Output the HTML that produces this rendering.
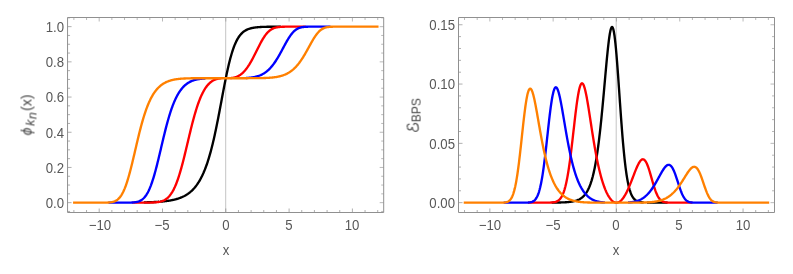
<!DOCTYPE html>
<html><head><meta charset="utf-8"><title>plot</title>
<style>
html,body{margin:0;padding:0;background:#fff;}
body{width:793px;height:274px;position:relative;overflow:hidden;font-family:"Liberation Sans",sans-serif;}
.t{position:absolute;will-change:transform;transform:scaleY(1.07);transform-origin:50% 12.6px;font-size:13.2px;line-height:16px;height:16px;color:#585858;white-space:nowrap;}
.lt{stroke:#8c8c8c;stroke-width:0.6}
.yl{position:absolute;width:0;height:0;}
.yl .rot{will-change:transform;position:absolute;left:0;top:0;white-space:nowrap;font-size:13.5px;line-height:16px;color:#484848;transform:translate(-50%,-50%) rotate(-90deg);transform-origin:50% 50%;display:inline-block;}
.g{position:relative;display:inline-block;}
.phi{font-size:14px;}
.kk{font-size:12.5px;top:3.2px;margin-left:1.8px;}
.nn{font-size:12.5px;top:5px;margin-left:0.5px;}
.px{font-size:14px;margin-left:1.2px;}
.bps{font-size:12px;top:4.1px;margin-left:0px;}
</style></head><body>
<svg width="793" height="274" viewBox="0 0 793 274" style="position:absolute;left:0;top:0"><g fill="none" stroke-linejoin="round" stroke-linecap="butt"><path d="M225.7,17.5 V212.5" stroke="#c4c4c4" stroke-width="1"/><g stroke-width="2.35"><path d="M143.87,202.38 L144.37,202.37 L144.88,202.36 L145.38,202.34 L145.89,202.33 L146.39,202.32 L146.90,202.30 L147.41,202.29 L147.91,202.28 L148.42,202.26 L148.92,202.24 L149.43,202.23 L149.93,202.21 L150.44,202.19 L150.95,202.17 L151.45,202.15 L151.96,202.13 L152.46,202.11 L152.97,202.09 L153.47,202.07 L153.98,202.04 L154.49,202.02 L154.99,201.99 L155.50,201.97 L156.00,201.94 L156.51,201.91 L157.02,201.88 L157.52,201.85 L158.03,201.82 L158.53,201.78 L159.04,201.75M160.05,201.67 L160.56,201.63 L161.06,201.59 L161.57,201.55 L162.07,201.50 L162.58,201.46 L163.08,201.41 L163.59,201.36 L164.10,201.30 L164.60,201.25 L165.11,201.19 L165.61,201.13 L166.12,201.07 L166.62,201.01 L167.13,200.94 L167.64,200.87 L168.14,200.80 L168.65,200.72 L169.15,200.64 L169.66,200.56 L170.17,200.48 L170.67,200.39 L171.18,200.30 L171.68,200.20 L172.19,200.10 L172.69,200.00 L173.20,199.89 L173.71,199.78 L174.21,199.66 L174.72,199.54 L175.22,199.41 L175.73,199.28 L176.23,199.14 L176.74,199.00 L177.25,198.85 L177.75,198.70 L178.26,198.53 L178.76,198.37 L179.27,198.19 L179.77,198.01 L180.28,197.82 L180.79,197.62 L181.29,197.42 L181.80,197.21 L182.30,196.99 L182.81,196.75 L183.32,196.51 L183.82,196.27 L184.33,196.01 L184.83,195.73 L185.34,195.45 L185.84,195.16 L186.35,194.86 L186.86,194.54 L187.36,194.21 L187.87,193.87 L188.37,193.51 L188.88,193.14 L189.38,192.75 L189.89,192.35 L190.40,191.93 L190.90,191.49 L191.41,191.04 L191.91,190.57 L192.42,190.08 L192.92,189.57 L193.43,189.04 L193.94,188.49 L194.44,187.92 L194.95,187.32 L195.45,186.70 L195.96,186.06 L196.47,185.39 L196.97,184.69 L197.48,183.97 L197.98,183.21 L198.49,182.43 L198.99,181.62 L199.50,180.78 L200.01,179.90 L200.51,178.99 L201.02,178.04 L201.52,177.06 L202.03,176.04 L202.53,174.98 L203.04,173.88 L203.55,172.75 L204.05,171.56 L204.56,170.34 L205.06,169.07 L205.57,167.75 L206.07,166.39 L206.58,164.98 L207.09,163.52 L207.59,162.01 L208.10,160.44 L208.60,158.83 L209.11,157.16 L209.62,155.43 L210.12,153.66 L210.63,151.82 L211.13,149.93 L211.64,147.99 L212.14,145.99 L212.65,143.93 L213.16,141.82 L213.66,139.65 L214.17,137.43 L214.67,135.16 L215.18,132.83 L215.68,130.46 L216.19,128.03 L216.70,125.57 L217.20,123.06 L217.71,120.51 L218.21,117.92 L218.72,115.31 L219.22,112.67 L219.73,110.00 L220.24,107.32 L220.74,104.62 L221.25,101.92 L221.75,99.21 L222.26,96.51 L222.77,93.82 L223.27,91.14 L223.78,88.48 L224.28,85.86 L224.79,83.26 L225.29,80.71 L225.80,78.20 L226.31,75.74 L226.81,73.33 L227.32,70.99 L227.82,68.70 L228.33,66.48 L228.83,64.34 L229.34,62.26 L229.85,60.26 L230.35,58.33 L230.86,56.48 L231.36,54.71 L231.87,53.01 L232.38,51.39 L232.88,49.85 L233.39,48.39 L233.89,46.99 L234.40,45.68 L234.90,44.43 L235.41,43.25 L235.92,42.14 L236.42,41.09 L236.93,40.11 L237.43,39.18 L237.94,38.31 L238.44,37.50 L238.95,36.73 L239.46,36.02 L239.96,35.35 L240.47,34.73 L240.97,34.15 L241.48,33.61 L241.98,33.10 L242.49,32.63 L243.00,32.19 L243.50,31.79 L244.01,31.41 L244.51,31.06 L245.02,30.73 L245.53,30.43 L246.03,30.14 L246.54,29.88 L247.04,29.64 L247.55,29.42 L248.05,29.21 L248.56,29.02 L249.07,28.84 L249.57,28.67 L250.08,28.52 L250.58,28.38 L251.09,28.25 L251.59,28.13 L252.10,28.01 L252.61,27.91 L253.11,27.82 L253.62,27.73 L254.12,27.64 L254.63,27.57 L255.13,27.50 L255.64,27.43 L256.15,27.37 L256.65,27.32 L257.16,27.27 L257.66,27.22 L258.17,27.18 L258.68,27.14 L259.18,27.10 L259.69,27.06 L260.19,27.03 L260.70,27.00 L261.20,26.98 L261.71,26.95 L262.22,26.93 L262.72,26.91 L263.23,26.89 L263.73,26.87 L264.24,26.85 L264.74,26.84 L265.25,26.82 L265.76,26.81 L266.26,26.80 L266.77,26.79 L267.27,26.78 L267.78,26.77 L268.28,26.76 L268.79,26.75 L269.30,26.74 L269.80,26.73 L270.31,26.73 L270.81,26.72 L271.32,26.72 L271.83,26.71 L272.33,26.71 L272.84,26.70 L273.34,26.70 L273.85,26.69 L274.35,26.69 L274.86,26.69 L275.37,26.68 L275.87,26.68 L276.38,26.68 L276.88,26.68 L277.39,26.68 L277.89,26.67 L278.40,26.67 L278.91,26.67 L279.41,26.67 L279.92,26.67 L280.42,26.67 L280.93,26.66" stroke="#000000"/><path d="M132.23,202.65 L132.74,202.65 L133.24,202.65 L133.75,202.65 L134.26,202.65 L134.76,202.65 L135.27,202.65 L135.77,202.65 L136.28,202.65 L136.78,202.65 L137.29,202.65 L137.80,202.65 L138.30,202.65 L138.81,202.65 L139.31,202.65 L139.82,202.65 L140.32,202.65 L140.83,202.65 L141.34,202.65 L141.84,202.65 L142.35,202.65 L142.85,202.64 L143.36,202.64 L143.87,202.64 L144.37,202.64 L144.88,202.64 L145.38,202.64 L145.89,202.63 L146.39,202.63 L146.90,202.63 L147.41,202.62 L147.91,202.62 L148.42,202.61 L148.92,202.61 L149.43,202.60 L149.93,202.59 L150.44,202.58 L150.95,202.57 L151.45,202.55 L151.96,202.54 L152.46,202.52 L152.97,202.50 L153.47,202.47 L153.98,202.45 L154.49,202.42 L154.99,202.38 L155.50,202.34 L156.00,202.30 L156.51,202.24 L157.02,202.19 L157.52,202.12 L158.03,202.05 L158.53,201.97 L159.04,201.88 L159.54,201.78 L160.05,201.67 L160.56,201.54 L161.06,201.41 L161.57,201.25 L162.07,201.09 L162.58,200.90 L163.08,200.70 L163.59,200.48 L164.10,200.23 L164.60,199.97 L165.11,199.68 L165.61,199.36 L166.12,199.02 L166.62,198.64 L167.13,198.24 L167.64,197.80 L168.14,197.33 L168.65,196.82 L169.15,196.28 L169.66,195.69 L170.17,195.06 L170.67,194.39 L171.18,193.68 L171.68,192.91 L172.19,192.10 L172.69,191.24 L173.20,190.33 L173.71,189.36 L174.21,188.34 L174.72,187.26 L175.22,186.13 L175.73,184.94 L176.23,183.70 L176.74,182.39 L177.25,181.03 L177.75,179.61 L178.26,178.14 L178.76,176.60 L179.27,175.01 L179.77,173.37 L180.28,171.67 L180.79,169.93 L181.29,168.13 L181.80,166.29 L182.30,164.40 L182.81,162.47 L183.32,160.50 L183.82,158.50 L184.33,156.46 L184.83,154.40 L185.34,152.31 L185.84,150.21 L186.35,148.09 L186.86,145.96 L187.36,143.82 L187.87,141.69 L188.37,139.55 L188.88,137.42 L189.38,135.30 L189.89,133.20 L190.40,131.11 L190.90,129.05 L191.41,127.02 L191.91,125.01 L192.42,123.04 L192.92,121.11 L193.43,119.21 L193.94,117.35 L194.44,115.54 L194.95,113.77 L195.45,112.05 L195.96,110.38 L196.47,108.75 L196.97,107.17 L197.48,105.65 L197.98,104.17 L198.49,102.75 L198.99,101.38 L199.50,100.05 L200.01,98.78 L200.51,97.56 L201.02,96.38 L201.52,95.26 L202.03,94.18 L202.53,93.15 L203.04,92.17 L203.55,91.23 L204.05,90.34 L204.56,89.49 L205.06,88.68 L205.57,87.91 L206.07,87.18 L206.58,86.49 L207.09,85.84 L207.59,85.23 L208.10,84.65 L208.60,84.10 L209.11,83.58 L209.62,83.10 L210.12,82.65 L210.63,82.23 L211.13,81.83 L211.64,81.46 L212.14,81.12 L212.65,80.81 L213.16,80.52 L213.66,80.25 L214.17,80.00 L214.67,79.77 L215.18,79.57 L215.68,79.38 L216.19,79.21 L216.70,79.06 L217.20,78.92 L217.71,78.80 L218.21,78.70 L218.72,78.60 L219.22,78.52 L219.73,78.45 L220.24,78.39 L220.74,78.35 L221.25,78.31M230.35,78.09 L230.86,78.05 L231.36,78.00 L231.87,77.95 L232.38,77.88 L232.88,77.80 L233.39,77.70 L233.89,77.60 L234.40,77.48 L234.90,77.35 L235.41,77.20 L235.92,77.03 L236.42,76.85 L236.93,76.64 L237.43,76.42 L237.94,76.18 L238.44,75.92 L238.95,75.64 L239.46,75.34 L239.96,75.02 L240.47,74.67 L240.97,74.30 L241.48,73.90 L241.98,73.48 L242.49,73.04 L243.00,72.57 L243.50,72.07 L244.01,71.55 L244.51,71.00 L245.02,70.42 L245.53,69.82 L246.03,69.19 L246.54,68.54 L247.04,67.85 L247.55,67.14 L248.05,66.41 L248.56,65.64 L249.07,64.86 L249.57,64.05 L250.08,63.21 L250.58,62.35 L251.09,61.47 L251.59,60.57 L252.10,59.65 L252.61,58.71 L253.11,57.75 L253.62,56.78 L254.12,55.79 L254.63,54.80 L255.13,53.79 L255.64,52.78 L256.15,51.76 L256.65,50.74 L257.16,49.72 L257.66,48.70 L258.17,47.69 L258.68,46.68 L259.18,45.68 L259.69,44.70 L260.19,43.73 L260.70,42.78 L261.20,41.84 L261.71,40.93 L262.22,40.05 L262.72,39.18 L263.23,38.35 L263.73,37.55 L264.24,36.77 L264.74,36.03 L265.25,35.32 L265.76,34.64 L266.26,34.00 L266.77,33.39 L267.27,32.82 L267.78,32.28 L268.28,31.77 L268.79,31.30 L269.30,30.86 L269.80,30.45 L270.31,30.07 L270.81,29.72 L271.32,29.40 L271.83,29.10 L272.33,28.83 L272.84,28.59 L273.34,28.37 L273.85,28.16 L274.35,27.98 L274.86,27.82 L275.37,27.67 L275.87,27.54 L276.38,27.43 L276.88,27.32 L277.39,27.23 L277.89,27.15 L278.40,27.08 L278.91,27.02 L279.41,26.97 L279.92,26.92 L280.42,26.88 L280.93,26.84 L281.43,26.81 L281.94,26.79 L282.45,26.77 L282.95,26.75 L283.46,26.73 L283.96,26.72 L284.47,26.71 L284.98,26.70 L285.48,26.69 L285.99,26.68 L286.49,26.68 L287.00,26.67 L287.50,26.67 L288.01,26.66 L288.52,26.66 L289.02,26.66 L289.53,26.66 L290.03,26.66 L290.54,26.65 L291.04,26.65 L291.55,26.65 L292.06,26.65 L292.56,26.65 L293.07,26.65 L293.57,26.65 L294.08,26.65 L294.58,26.65 L295.09,26.65 L295.60,26.65 L296.10,26.65 L296.61,26.65 L297.11,26.65 L297.62,26.65 L298.13,26.65 L298.63,26.65 L299.14,26.65 L299.64,26.65 L300.15,26.65 L300.65,26.65 L301.16,26.65 L301.67,26.65 L302.17,26.65 L302.68,26.65 L303.18,26.65 L303.69,26.65 L304.19,26.65 L304.70,26.65 L305.21,26.65 L305.71,26.65" stroke="#ff0000"/><path d="M108.46,202.65 L108.97,202.65 L109.47,202.65 L109.98,202.65 L110.48,202.65 L110.99,202.65 L111.50,202.65 L112.00,202.65 L112.51,202.65 L113.01,202.65 L113.52,202.65 L114.02,202.65 L114.53,202.65 L115.04,202.65 L115.54,202.65 L116.05,202.65 L116.55,202.65 L117.06,202.65 L117.56,202.65 L118.07,202.65 L118.58,202.65 L119.08,202.65 L119.59,202.65 L120.09,202.65 L120.60,202.65 L121.11,202.65 L121.61,202.65 L122.12,202.65 L122.62,202.65 L123.13,202.65 L123.63,202.65 L124.14,202.65 L124.65,202.64 L125.15,202.64 L125.66,202.64 L126.16,202.64 L126.67,202.64 L127.17,202.63 L127.68,202.63 L128.19,202.62 L128.69,202.61 L129.20,202.61 L129.70,202.59 L130.21,202.58 L130.72,202.57 L131.22,202.55 L131.73,202.52 L132.23,202.50 L132.74,202.47 L133.24,202.43 L133.75,202.39 L134.26,202.34 L134.76,202.28 L135.27,202.21 L135.77,202.13 L136.28,202.04 L136.78,201.93 L137.29,201.81 L137.80,201.67 L138.30,201.52 L138.81,201.34 L139.31,201.14 L139.82,200.92 L140.32,200.67 L140.83,200.40 L141.34,200.09 L141.84,199.75 L142.35,199.37 L142.85,198.96 L143.36,198.50 L143.87,198.00 L144.37,197.46 L144.88,196.87 L145.38,196.22 L145.89,195.53 L146.39,194.78 L146.90,193.97 L147.41,193.11 L147.91,192.19 L148.42,191.20 L148.92,190.15 L149.43,189.04 L149.93,187.86 L150.44,186.62 L150.95,185.31 L151.45,183.93 L151.96,182.49 L152.46,180.99 L152.97,179.42 L153.47,177.79 L153.98,176.11 L154.49,174.36 L154.99,172.56 L155.50,170.71 L156.00,168.80 L156.51,166.86 L157.02,164.87 L157.52,162.84 L158.03,160.79 L158.53,158.70 L159.04,156.59 L159.54,154.46 L160.05,152.32 L160.56,150.16 L161.06,148.00 L161.57,145.85 L162.07,143.69 L162.58,141.55 L163.08,139.42 L163.59,137.31 L164.10,135.23 L164.60,133.17 L165.11,131.13 L165.61,129.13 L166.12,127.17 L166.62,125.25 L167.13,123.36 L167.64,121.52 L168.14,119.72 L168.65,117.97 L169.15,116.27 L169.66,114.61 L170.17,113.01 L170.67,111.45 L171.18,109.94 L171.68,108.48 L172.19,107.07 L172.69,105.71 L173.20,104.40 L173.71,103.13 L174.21,101.92 L174.72,100.74 L175.22,99.62 L175.73,98.54 L176.23,97.50 L176.74,96.51 L177.25,95.55 L177.75,94.64 L178.26,93.77 L178.76,92.93 L179.27,92.13 L179.77,91.37 L180.28,90.64 L180.79,89.95 L181.29,89.28 L181.80,88.65 L182.30,88.05 L182.81,87.47 L183.32,86.93 L183.82,86.41 L184.33,85.91 L184.83,85.45 L185.34,85.00 L185.84,84.58 L186.35,84.18 L186.86,83.80 L187.36,83.44 L187.87,83.09 L188.37,82.77 L188.88,82.47 L189.38,82.18 L189.89,81.91 L190.40,81.65 L190.90,81.41 L191.41,81.18 L191.91,80.96 L192.42,80.76 L192.92,80.57 L193.43,80.39 L193.94,80.23 L194.44,80.07 L194.95,79.92 L195.45,79.78 L195.96,79.66 L196.47,79.54 L196.97,79.42 L197.48,79.32 L197.98,79.22 L198.49,79.13 L198.99,79.05 L199.50,78.97 L200.01,78.90 L200.51,78.83 L201.02,78.77 L201.52,78.72 L202.03,78.66 L202.53,78.62 L203.04,78.57 L203.55,78.53 L204.05,78.50 L204.56,78.46 L205.06,78.43 L205.57,78.41M246.03,77.99 L246.54,77.96 L247.04,77.93 L247.55,77.90 L248.05,77.87 L248.56,77.83 L249.07,77.78 L249.57,77.74 L250.08,77.68 L250.58,77.63 L251.09,77.57 L251.59,77.50 L252.10,77.43 L252.61,77.35 L253.11,77.27 L253.62,77.18 L254.12,77.09 L254.63,76.99 L255.13,76.88 L255.64,76.76 L256.15,76.63 L256.65,76.50 L257.16,76.36 L257.66,76.20 L258.17,76.04 L258.68,75.87 L259.18,75.69 L259.69,75.49 L260.19,75.29 L260.70,75.07 L261.20,74.84 L261.71,74.60 L262.22,74.34 L262.72,74.07 L263.23,73.79 L263.73,73.49 L264.24,73.17 L264.74,72.84 L265.25,72.50 L265.76,72.13 L266.26,71.75 L266.77,71.35 L267.27,70.93 L267.78,70.50 L268.28,70.04 L268.79,69.57 L269.30,69.07 L269.80,68.56 L270.31,68.03 L270.81,67.47 L271.32,66.89 L271.83,66.29 L272.33,65.68 L272.84,65.03 L273.34,64.37 L273.85,63.69 L274.35,62.98 L274.86,62.26 L275.37,61.51 L275.87,60.75 L276.38,59.96 L276.88,59.15 L277.39,58.33 L277.89,57.49 L278.40,56.63 L278.91,55.75 L279.41,54.86 L279.92,53.96 L280.42,53.05 L280.93,52.12 L281.43,51.19 L281.94,50.25 L282.45,49.31 L282.95,48.36 L283.46,47.41 L283.96,46.46 L284.47,45.52 L284.98,44.58 L285.48,43.66 L285.99,42.74 L286.49,41.84 L287.00,40.95 L287.50,40.08 L288.01,39.23 L288.52,38.40 L289.02,37.60 L289.53,36.82 L290.03,36.07 L290.54,35.35 L291.04,34.66 L291.55,34.00 L292.06,33.38 L292.56,32.78 L293.07,32.23 L293.57,31.70 L294.08,31.21 L294.58,30.75 L295.09,30.33 L295.60,29.93 L296.10,29.57 L296.61,29.24 L297.11,28.94 L297.62,28.66 L298.13,28.41 L298.63,28.19 L299.14,27.99 L299.64,27.81 L300.15,27.65 L300.65,27.51 L301.16,27.38 L301.67,27.27 L302.17,27.18 L302.68,27.09 L303.18,27.02 L303.69,26.96 L304.19,26.91 L304.70,26.86 L305.21,26.83 L305.71,26.79 L306.22,26.77 L306.72,26.75 L307.23,26.73 L307.73,26.71 L308.24,26.70 L308.75,26.69 L309.25,26.68 L309.76,26.67 L310.26,26.67 L310.77,26.66 L311.28,26.66 L311.78,26.66 L312.29,26.66 L312.79,26.65 L313.30,26.65 L313.80,26.65 L314.31,26.65 L314.82,26.65 L315.32,26.65 L315.83,26.65 L316.33,26.65 L316.84,26.65 L317.34,26.65 L317.85,26.65 L318.36,26.65 L318.86,26.65 L319.37,26.65 L319.87,26.65 L320.38,26.65 L320.88,26.65 L321.39,26.65 L321.90,26.65 L322.40,26.65 L322.91,26.65 L323.41,26.65 L323.92,26.65 L324.43,26.65 L324.93,26.65 L325.44,26.65 L325.94,26.65 L326.45,26.65 L326.95,26.65 L327.46,26.65 L327.97,26.65 L328.47,26.65 L328.98,26.65 L329.48,26.65 L329.99,26.65 L330.49,26.65" stroke="#0000ff"/><path d="M73.06,202.65 L73.56,202.65 L74.07,202.65 L74.57,202.65 L75.08,202.65 L75.59,202.65 L76.09,202.65 L76.60,202.65 L77.10,202.65 L77.61,202.65 L78.11,202.65 L78.62,202.65 L79.13,202.65 L79.63,202.65 L80.14,202.65 L80.64,202.65 L81.15,202.65 L81.66,202.65 L82.16,202.65 L82.67,202.65 L83.17,202.65 L83.68,202.65 L84.18,202.65 L84.69,202.65 L85.20,202.65 L85.70,202.65 L86.21,202.65 L86.71,202.65 L87.22,202.65 L87.72,202.65 L88.23,202.65 L88.74,202.65 L89.24,202.65 L89.75,202.65 L90.25,202.65 L90.76,202.65 L91.26,202.65 L91.77,202.65 L92.28,202.65 L92.78,202.65 L93.29,202.65 L93.79,202.65 L94.30,202.65 L94.81,202.65 L95.31,202.65 L95.82,202.65 L96.32,202.65 L96.83,202.65 L97.33,202.65 L97.84,202.65 L98.35,202.65 L98.85,202.65 L99.36,202.65 L99.86,202.65 L100.37,202.65 L100.87,202.65 L101.38,202.65 L101.89,202.64 L102.39,202.64 L102.90,202.64 L103.40,202.64 L103.91,202.63 L104.41,202.63 L104.92,202.62 L105.43,202.62 L105.93,202.61 L106.44,202.59 L106.94,202.58 L107.45,202.56 L107.96,202.54 L108.46,202.51 L108.97,202.48 L109.47,202.44 L109.98,202.39 L110.48,202.33 L110.99,202.27 L111.50,202.19 L112.00,202.09 L112.51,201.99 L113.01,201.86 L113.52,201.72 L114.02,201.55 L114.53,201.36 L115.04,201.15 L115.54,200.91 L116.05,200.63 L116.55,200.32 L117.06,199.98 L117.56,199.60 L118.07,199.17 L118.58,198.70 L119.08,198.18 L119.59,197.61 L120.09,196.98 L120.60,196.30 L121.11,195.57 L121.61,194.77 L122.12,193.91 L122.62,192.98 L123.13,191.99 L123.63,190.93 L124.14,189.80 L124.65,188.60 L125.15,187.33 L125.66,185.99 L126.16,184.58 L126.67,183.10 L127.17,181.56 L127.68,179.95 L128.19,178.27 L128.69,176.54 L129.20,174.74 L129.70,172.89 L130.21,170.99 L130.72,169.04 L131.22,167.04 L131.73,165.01 L132.23,162.94 L132.74,160.84 L133.24,158.71 L133.75,156.57 L134.26,154.41 L134.76,152.24 L135.27,150.06 L135.77,147.89 L136.28,145.72 L136.78,143.56 L137.29,141.42 L137.80,139.30 L138.30,137.20 L138.81,135.12 L139.31,133.08 L139.82,131.07 L140.32,129.10 L140.83,127.17 L141.34,125.28 L141.84,123.43 L142.35,121.63 L142.85,119.87 L143.36,118.16 L143.87,116.50 L144.37,114.89 L144.88,113.33 L145.38,111.82 L145.89,110.36 L146.39,108.95 L146.90,107.58 L147.41,106.27 L147.91,105.00 L148.42,103.78 L148.92,102.60 L149.43,101.47 L149.93,100.39 L150.44,99.34 L150.95,98.34 L151.45,97.38 L151.96,96.46 L152.46,95.57 L152.97,94.72 L153.47,93.91 L153.98,93.14 L154.49,92.39 L154.99,91.68 L155.50,91.00 L156.00,90.35 L156.51,89.73 L157.02,89.14 L157.52,88.57 L158.03,88.03 L158.53,87.52 L159.04,87.03 L159.54,86.56 L160.05,86.11 L160.56,85.69 L161.06,85.28 L161.57,84.89 L162.07,84.53 L162.58,84.18 L163.08,83.84 L163.59,83.53 L164.10,83.23 L164.60,82.94 L165.11,82.67 L165.61,82.41 L166.12,82.17 L166.62,81.93 L167.13,81.71 L167.64,81.50 L168.14,81.31 L168.65,81.12 L169.15,80.94 L169.66,80.77 L170.17,80.61 L170.67,80.46 L171.18,80.32 L171.68,80.19 L172.19,80.06 L172.69,79.94 L173.20,79.82 L173.71,79.72 L174.21,79.62 L174.72,79.52 L175.22,79.43 L175.73,79.35 L176.23,79.27 L176.74,79.19 L177.25,79.12 L177.75,79.06 L178.26,79.00 L178.76,78.94 L179.27,78.89 L179.77,78.83 L180.28,78.79 L180.79,78.74 L181.29,78.70 L181.80,78.66 L182.30,78.63 L182.81,78.59 L183.32,78.56 L183.82,78.53 L184.33,78.51 L184.83,78.48 L185.34,78.46 L185.84,78.44 L186.35,78.41 L186.86,78.40 L187.36,78.38 L187.87,78.36 L188.37,78.35 L188.88,78.33 L189.38,78.32 L189.89,78.31 L190.40,78.30 L190.90,78.29 L191.41,78.28 L191.91,78.27 L192.42,78.27 L192.92,78.26 L193.43,78.25 L193.94,78.25 L194.44,78.24 L194.95,78.24 L195.45,78.23 L195.96,78.23 L196.47,78.23 L196.97,78.22 L197.48,78.22 L197.98,78.22 L198.49,78.22 L198.99,78.21 L199.50,78.21 L200.01,78.21 L200.51,78.21 L201.02,78.21 L201.52,78.21 L202.03,78.21 L202.53,78.20 L203.04,78.20 L203.55,78.20 L204.05,78.20 L204.56,78.20 L205.06,78.20 L205.57,78.20 L206.07,78.20 L206.58,78.20 L207.09,78.20 L207.59,78.20 L208.10,78.20 L208.60,78.20 L209.11,78.20 L209.62,78.20 L210.12,78.20 L210.63,78.20 L211.13,78.20 L211.64,78.20 L212.14,78.20 L212.65,78.20 L213.16,78.20 L213.66,78.20 L214.17,78.20 L214.67,78.20 L215.18,78.20 L215.68,78.20 L216.19,78.20 L216.70,78.20 L217.20,78.20 L217.71,78.20 L218.21,78.20 L218.72,78.20 L219.22,78.20 L219.73,78.20 L220.24,78.20 L220.74,78.20 L221.25,78.20 L221.75,78.20 L222.26,78.20 L222.77,78.20 L223.27,78.20 L223.78,78.20 L224.28,78.20 L224.79,78.20 L225.29,78.20 L225.80,78.20 L226.31,78.20 L226.81,78.20 L227.32,78.20 L227.82,78.20 L228.33,78.20 L228.83,78.20 L229.34,78.20 L229.85,78.20 L230.35,78.20 L230.86,78.20 L231.36,78.20 L231.87,78.20 L232.38,78.20 L232.88,78.20 L233.39,78.20 L233.89,78.20 L234.40,78.20 L234.90,78.20 L235.41,78.20 L235.92,78.20 L236.42,78.20 L236.93,78.20 L237.43,78.20 L237.94,78.20 L238.44,78.20 L238.95,78.20 L239.46,78.20 L239.96,78.20 L240.47,78.20 L240.97,78.20 L241.48,78.20 L241.98,78.20 L242.49,78.20 L243.00,78.20 L243.50,78.20 L244.01,78.20 L244.51,78.20 L245.02,78.20 L245.53,78.20 L246.03,78.20 L246.54,78.20 L247.04,78.20 L247.55,78.20 L248.05,78.20 L248.56,78.19 L249.07,78.19 L249.57,78.19 L250.08,78.19 L250.58,78.19 L251.09,78.19 L251.59,78.19 L252.10,78.19 L252.61,78.18 L253.11,78.18 L253.62,78.18 L254.12,78.18 L254.63,78.18 L255.13,78.17 L255.64,78.17 L256.15,78.16 L256.65,78.16 L257.16,78.16 L257.66,78.15 L258.17,78.15 L258.68,78.14 L259.18,78.13 L259.69,78.12 L260.19,78.12 L260.70,78.11 L261.20,78.10 L261.71,78.09 L262.22,78.08 L262.72,78.06 L263.23,78.05 L263.73,78.04 L264.24,78.02 L264.74,78.00 L265.25,77.98 L265.76,77.96 L266.26,77.94 L266.77,77.92 L267.27,77.89 L267.78,77.87 L268.28,77.84 L268.79,77.81 L269.30,77.77 L269.80,77.74 L270.31,77.70 L270.81,77.66 L271.32,77.61 L271.83,77.57 L272.33,77.52 L272.84,77.46 L273.34,77.41 L273.85,77.35 L274.35,77.28 L274.86,77.21 L275.37,77.14 L275.87,77.06 L276.38,76.98 L276.88,76.89 L277.39,76.80 L277.89,76.70 L278.40,76.59 L278.91,76.48 L279.41,76.37 L279.92,76.24 L280.42,76.11 L280.93,75.98 L281.43,75.83 L281.94,75.68 L282.45,75.52 L282.95,75.35 L283.46,75.17 L283.96,74.98 L284.47,74.78 L284.98,74.57 L285.48,74.35 L285.99,74.12 L286.49,73.88 L287.00,73.63 L287.50,73.37 L288.01,73.09 L288.52,72.80 L289.02,72.50 L289.53,72.18 L290.03,71.85 L290.54,71.50 L291.04,71.14 L291.55,70.76 L292.06,70.37 L292.56,69.96 L293.07,69.53 L293.57,69.09 L294.08,68.62 L294.58,68.14 L295.09,67.65 L295.60,67.13 L296.10,66.59 L296.61,66.04 L297.11,65.47 L297.62,64.87 L298.13,64.26 L298.63,63.62 L299.14,62.97 L299.64,62.30 L300.15,61.60 L300.65,60.89 L301.16,60.16 L301.67,59.41 L302.17,58.64 L302.68,57.85 L303.18,57.05 L303.69,56.22 L304.19,55.39 L304.70,54.53 L305.21,53.67 L305.71,52.79 L306.22,51.90 L306.72,51.00 L307.23,50.09 L307.73,49.17 L308.24,48.25 L308.75,47.33 L309.25,46.41 L309.76,45.49 L310.26,44.57 L310.77,43.66 L311.28,42.76 L311.78,41.86 L312.29,40.98 L312.79,40.12 L313.30,39.27 L313.80,38.45 L314.31,37.64 L314.82,36.86 L315.32,36.11 L315.83,35.39 L316.33,34.69 L316.84,34.02 L317.34,33.39 L317.85,32.79 L318.36,32.22 L318.86,31.69 L319.37,31.19 L319.87,30.72 L320.38,30.29 L320.88,29.89 L321.39,29.52 L321.90,29.18 L322.40,28.88 L322.91,28.60 L323.41,28.35 L323.92,28.12 L324.43,27.92 L324.93,27.74 L325.44,27.58 L325.94,27.44 L326.45,27.32 L326.95,27.21 L327.46,27.12 L327.97,27.04 L328.47,26.97 L328.98,26.92 L329.48,26.87 L329.99,26.83 L330.49,26.79 L331.00,26.76 L331.51,26.74 L332.01,26.72 L332.52,26.71 L333.02,26.69 L333.53,26.68 L334.04,26.68 L334.54,26.67 L335.05,26.67 L335.55,26.66 L336.06,26.66 L336.56,26.66 L337.07,26.65 L337.58,26.65 L338.08,26.65 L338.59,26.65 L339.09,26.65 L339.60,26.65 L340.10,26.65 L340.61,26.65 L341.12,26.65 L341.62,26.65 L342.13,26.65 L342.63,26.65 L343.14,26.65 L343.64,26.65 L344.15,26.65 L344.66,26.65 L345.16,26.65 L345.67,26.65 L346.17,26.65 L346.68,26.65 L347.19,26.65 L347.69,26.65 L348.20,26.65 L348.70,26.65 L349.21,26.65 L349.71,26.65 L350.22,26.65 L350.73,26.65 L351.23,26.65 L351.74,26.65 L352.24,26.65 L352.75,26.65 L353.25,26.65 L353.76,26.65 L354.27,26.65 L354.77,26.65 L355.28,26.65 L355.78,26.65 L356.29,26.65 L356.79,26.65 L357.30,26.65 L357.81,26.65 L358.31,26.65 L358.82,26.65 L359.32,26.65 L359.83,26.65 L360.34,26.65 L360.84,26.65 L361.35,26.65 L361.85,26.65 L362.36,26.65 L362.86,26.65 L363.37,26.65 L363.88,26.65 L364.38,26.65 L364.89,26.65 L365.39,26.65 L365.90,26.65 L366.40,26.65 L366.91,26.65 L367.42,26.65 L367.92,26.65 L368.43,26.65 L368.93,26.65 L369.44,26.65 L369.94,26.65 L370.45,26.65 L370.96,26.65 L371.46,26.65 L371.97,26.65 L372.47,26.65 L372.98,26.65 L373.49,26.65 L373.99,26.65 L374.50,26.65 L375.00,26.65 L375.51,26.65 L376.01,26.65 L376.52,26.65 L377.03,26.65 L377.53,26.65 L378.04,26.65 L378.54,26.65" stroke="#ff8000"/></g><g stroke="#787878" stroke-width="0.6" class="tk"><path d="M73.88,212.5 v-2.5" /><path d="M73.88,17.5 v2.5" class="lt"/><path d="M86.54,212.5 v-2.5" /><path d="M86.54,17.5 v2.5" class="lt"/><path d="M99.20,212.5 v-4" /><path d="M99.20,17.5 v4" class="lt"/><path d="M111.86,212.5 v-2.5" /><path d="M111.86,17.5 v2.5" class="lt"/><path d="M124.52,212.5 v-2.5" /><path d="M124.52,17.5 v2.5" class="lt"/><path d="M137.18,212.5 v-2.5" /><path d="M137.18,17.5 v2.5" class="lt"/><path d="M149.84,212.5 v-2.5" /><path d="M149.84,17.5 v2.5" class="lt"/><path d="M162.50,212.5 v-4" /><path d="M162.50,17.5 v4" class="lt"/><path d="M175.16,212.5 v-2.5" /><path d="M175.16,17.5 v2.5" class="lt"/><path d="M187.82,212.5 v-2.5" /><path d="M187.82,17.5 v2.5" class="lt"/><path d="M200.48,212.5 v-2.5" /><path d="M200.48,17.5 v2.5" class="lt"/><path d="M213.14,212.5 v-2.5" /><path d="M213.14,17.5 v2.5" class="lt"/><path d="M225.80,212.5 v-4" /><path d="M225.80,17.5 v4" class="lt"/><path d="M238.46,212.5 v-2.5" /><path d="M238.46,17.5 v2.5" class="lt"/><path d="M251.12,212.5 v-2.5" /><path d="M251.12,17.5 v2.5" class="lt"/><path d="M263.78,212.5 v-2.5" /><path d="M263.78,17.5 v2.5" class="lt"/><path d="M276.44,212.5 v-2.5" /><path d="M276.44,17.5 v2.5" class="lt"/><path d="M289.10,212.5 v-4" /><path d="M289.10,17.5 v4" class="lt"/><path d="M301.76,212.5 v-2.5" /><path d="M301.76,17.5 v2.5" class="lt"/><path d="M314.42,212.5 v-2.5" /><path d="M314.42,17.5 v2.5" class="lt"/><path d="M327.08,212.5 v-2.5" /><path d="M327.08,17.5 v2.5" class="lt"/><path d="M339.74,212.5 v-2.5" /><path d="M339.74,17.5 v2.5" class="lt"/><path d="M352.40,212.5 v-4" /><path d="M352.40,17.5 v4" class="lt"/><path d="M365.06,212.5 v-2.5" /><path d="M365.06,17.5 v2.5" class="lt"/><path d="M377.72,212.5 v-2.5" /><path d="M377.72,17.5 v2.5" class="lt"/><path d="M67.55,211.45 h2.5" /><path d="M383.7,211.45 h-2.5" class="lt"/><path d="M67.55,202.65 h4" /><path d="M383.7,202.65 h-4" class="lt"/><path d="M67.55,193.85 h2.5" /><path d="M383.7,193.85 h-2.5" class="lt"/><path d="M67.55,185.05 h2.5" /><path d="M383.7,185.05 h-2.5" class="lt"/><path d="M67.55,176.25 h2.5" /><path d="M383.7,176.25 h-2.5" class="lt"/><path d="M67.55,167.45 h4" /><path d="M383.7,167.45 h-4" class="lt"/><path d="M67.55,158.65 h2.5" /><path d="M383.7,158.65 h-2.5" class="lt"/><path d="M67.55,149.85 h2.5" /><path d="M383.7,149.85 h-2.5" class="lt"/><path d="M67.55,141.05 h2.5" /><path d="M383.7,141.05 h-2.5" class="lt"/><path d="M67.55,132.25 h4" /><path d="M383.7,132.25 h-4" class="lt"/><path d="M67.55,123.45 h2.5" /><path d="M383.7,123.45 h-2.5" class="lt"/><path d="M67.55,114.65 h2.5" /><path d="M383.7,114.65 h-2.5" class="lt"/><path d="M67.55,105.85 h2.5" /><path d="M383.7,105.85 h-2.5" class="lt"/><path d="M67.55,97.05 h4" /><path d="M383.7,97.05 h-4" class="lt"/><path d="M67.55,88.25 h2.5" /><path d="M383.7,88.25 h-2.5" class="lt"/><path d="M67.55,79.45 h2.5" /><path d="M383.7,79.45 h-2.5" class="lt"/><path d="M67.55,70.65 h2.5" /><path d="M383.7,70.65 h-2.5" class="lt"/><path d="M67.55,61.85 h4" /><path d="M383.7,61.85 h-4" class="lt"/><path d="M67.55,53.05 h2.5" /><path d="M383.7,53.05 h-2.5" class="lt"/><path d="M67.55,44.25 h2.5" /><path d="M383.7,44.25 h-2.5" class="lt"/><path d="M67.55,35.45 h2.5" /><path d="M383.7,35.45 h-2.5" class="lt"/><path d="M67.55,26.65 h4" /><path d="M383.7,26.65 h-4" class="lt"/><path d="M67.55,17.85 h2.5" /><path d="M383.7,17.85 h-2.5" class="lt"/></g><rect x="67.55" y="17.5" width="316.15" height="195.0" stroke="#909090" stroke-width="1"/><path d="M616.2,17.5 V212.5" stroke="#c4c4c4" stroke-width="1"/><g stroke-width="2.35"><path d="M551.71,202.61 L552.22,202.60 L552.72,202.60 L553.23,202.60 L553.73,202.59 L554.24,202.59 L554.75,202.58 L555.25,202.57 L555.76,202.57 L556.26,202.56 L556.77,202.55 L557.27,202.55 L557.78,202.54 L558.29,202.53 L558.79,202.52 L559.30,202.51 L559.80,202.50 L560.31,202.48 L560.82,202.47 L561.32,202.45 L561.83,202.44 L562.33,202.42 L562.84,202.40 L563.34,202.38 L563.85,202.36 L564.36,202.33 L564.86,202.31 L565.37,202.28 L565.87,202.25 L566.38,202.22 L566.88,202.18 L567.39,202.14 L567.90,202.10 L568.40,202.05 L568.91,202.00 L569.41,201.95 L569.92,201.89 L570.42,201.83 L570.93,201.76 L571.44,201.68 L571.94,201.60 L572.45,201.52 L572.95,201.42 L573.46,201.32 L573.97,201.21 L574.47,201.09 L574.98,200.96 L575.48,200.82 L575.99,200.67 L576.49,200.51 L577.00,200.33 L577.51,200.14 L578.01,199.93 L578.52,199.71 L579.02,199.47 L579.53,199.21 L580.03,198.92 L580.54,198.61 L581.05,198.28 L581.55,197.92 L582.06,197.54 L582.56,197.12 L583.07,196.66 L583.57,196.17 L584.08,195.64 L584.59,195.07 L585.09,194.46 L585.60,193.79 L586.10,193.07 L586.61,192.30 L587.12,191.46 L587.62,190.56 L588.13,189.59 L588.63,188.54 L589.14,187.41 L589.64,186.20 L590.15,184.89 L590.66,183.49 L591.16,181.98 L591.67,180.36 L592.17,178.63 L592.68,176.77 L593.18,174.77 L593.69,172.64 L594.20,170.36 L594.70,167.92 L595.21,165.33 L595.71,162.56 L596.22,159.62 L596.72,156.49 L597.23,153.18 L597.74,149.67 L598.24,145.97 L598.75,142.06 L599.25,137.95 L599.76,133.65 L600.27,129.14 L600.77,124.44 L601.28,119.55 L601.78,114.48 L602.29,109.26 L602.79,103.88 L603.30,98.39 L603.81,92.80 L604.31,87.14 L604.82,81.44 L605.32,75.76 L605.83,70.13 L606.33,64.60 L606.84,59.22 L607.35,54.06 L607.85,49.16 L608.36,44.60 L608.86,40.43 L609.37,36.72 L609.87,33.52 L610.38,30.91 L610.89,28.91 L611.39,27.59 L611.90,26.99 L612.40,27.12 L612.91,28.01 L613.42,29.66 L613.92,32.07 L614.43,35.22 L614.93,39.08 L615.44,43.60 L615.94,48.73 L616.45,54.40 L616.96,60.55 L617.46,67.09 L617.97,73.94 L618.47,81.02 L618.98,88.25 L619.48,95.54 L619.99,102.82 L620.50,110.02 L621.00,117.07 L621.51,123.91 L622.01,130.51 L622.52,136.81 L623.03,142.79 L623.53,148.43 L624.04,153.72 L624.54,158.64 L625.05,163.19 L625.55,167.38 L626.06,171.22 L626.57,174.72 L627.07,177.90 L627.58,180.77 L628.08,183.36 L628.59,185.67 L629.09,187.75 L629.60,189.59 L630.11,191.23 L630.61,192.68 L631.12,193.96 L631.62,195.09 L632.13,196.08 L632.63,196.95 L633.14,197.71 L633.65,198.37 L634.15,198.95 L634.66,199.46 L635.16,199.89 L635.67,200.27 L636.18,200.60 L636.68,200.89 L637.19,201.14 L637.69,201.35 L638.20,201.53 L638.70,201.69 L639.21,201.83 L639.72,201.94 L640.22,202.04 L640.73,202.13 L641.23,202.21 L641.74,202.27 L642.24,202.32 L642.75,202.37 L643.26,202.41 L643.76,202.45M646.80,202.57 L647.30,202.58 L647.81,202.59 L648.31,202.60 L648.82,202.61 L649.33,202.61 L649.83,202.62 L650.34,202.62 L650.84,202.63 L651.35,202.63 L651.85,202.63 L652.36,202.64 L652.87,202.64 L653.37,202.64 L653.88,202.64 L654.38,202.64 L654.89,202.64 L655.39,202.64 L655.90,202.65 L656.41,202.65 L656.91,202.65 L657.42,202.65 L657.92,202.65 L658.43,202.65 L658.93,202.65 L659.44,202.65 L659.95,202.65 L660.45,202.65 L660.96,202.65 L661.46,202.65 L661.97,202.65 L662.48,202.65 L662.98,202.65 L663.49,202.65 L663.99,202.65 L664.50,202.65 L665.00,202.65 L665.51,202.65 L666.02,202.65 L666.52,202.65 L667.03,202.65 L667.53,202.65" stroke="#000000"/><path d="M527.94,202.65 L528.45,202.65 L528.95,202.65 L529.46,202.65 L529.96,202.65 L530.47,202.65 L530.97,202.65 L531.48,202.65 L531.99,202.65 L532.49,202.65 L533.00,202.65 L533.50,202.65 L534.01,202.65 L534.52,202.65 L535.02,202.65 L535.53,202.65 L536.03,202.65 L536.54,202.65 L537.04,202.65 L537.55,202.65 L538.06,202.65 L538.56,202.65 L539.07,202.65 L539.57,202.65 L540.08,202.65 L540.58,202.65 L541.09,202.65 L541.60,202.65 L542.10,202.65 L542.61,202.65 L543.11,202.65 L543.62,202.65 L544.12,202.65 L544.63,202.64 L545.14,202.64 L545.64,202.64 L546.15,202.64 L546.65,202.63 L547.16,202.63 L547.67,202.62 L548.17,202.62 L548.68,202.61 L549.18,202.59 L549.69,202.58 L550.19,202.56 L550.70,202.54 L551.21,202.51 L551.71,202.48 L552.22,202.44 L552.72,202.39 L553.23,202.33 L553.73,202.25 L554.24,202.17 L554.75,202.06 L555.25,201.94 L555.76,201.79 L556.26,201.61 L556.77,201.40 L557.27,201.16 L557.78,200.87 L558.29,200.54 L558.79,200.16 L559.30,199.71 L559.80,199.20 L560.31,198.61 L560.82,197.94 L561.32,197.17 L561.83,196.31 L562.33,195.32 L562.84,194.22 L563.34,192.98 L563.85,191.60 L564.36,190.07 L564.86,188.37 L565.37,186.50 L565.87,184.45 L566.38,182.20 L566.88,179.77 L567.39,177.13 L567.90,174.28 L568.40,171.23 L568.91,167.98 L569.41,164.54 L569.92,160.90 L570.42,157.08 L570.93,153.10 L571.44,148.97 L571.94,144.72 L572.45,140.37 L572.95,135.95 L573.46,131.48 L573.97,127.02 L574.47,122.58 L574.98,118.21 L575.48,113.94 L575.99,109.83 L576.49,105.89 L577.00,102.18 L577.51,98.73 L578.01,95.56 L578.52,92.72 L579.02,90.22 L579.53,88.08 L580.03,86.33 L580.54,84.97 L581.05,84.00 L581.55,83.44 L582.06,83.26 L582.56,83.48 L583.07,84.06 L583.57,85.01 L584.08,86.28 L584.59,87.87 L585.09,89.75 L585.60,91.89 L586.10,94.26 L586.61,96.83 L587.12,99.59 L587.62,102.50 L588.13,105.53 L588.63,108.66 L589.14,111.87 L589.64,115.13 L590.15,118.42 L590.66,121.73 L591.16,125.03 L591.67,128.31 L592.17,131.57 L592.68,134.78 L593.18,137.93 L593.69,141.03 L594.20,144.05 L594.70,147.00 L595.21,149.87 L595.71,152.66 L596.22,155.36 L596.72,157.98 L597.23,160.51 L597.74,162.94 L598.24,165.29 L598.75,167.56 L599.25,169.73 L599.76,171.82 L600.27,173.82 L600.77,175.74 L601.28,177.58 L601.78,179.35 L602.29,181.03 L602.79,182.64 L603.30,184.17 L603.81,185.64 L604.31,187.03 L604.82,188.35 L605.32,189.61 L605.83,190.81 L606.33,191.94 L606.84,193.01 L607.35,194.02 L607.85,194.97 L608.36,195.86 L608.86,196.69 L609.37,197.46 L609.87,198.18 L610.38,198.85 L610.89,199.46 L611.39,200.01 L611.90,200.52 L612.40,200.97 L612.91,201.36 L613.42,201.70 L613.92,201.99 L614.43,202.23 L614.93,202.41 L615.44,202.54 L615.94,202.62 L616.45,202.65 L616.96,202.62 L617.46,202.54 L617.97,202.41 L618.47,202.23 L618.98,201.99 L619.48,201.70 L619.99,201.36 L620.50,200.97 L621.00,200.52 L621.51,200.03 L622.01,199.48 L622.52,198.88 L623.03,198.23 L623.53,197.53 L624.04,196.78 L624.54,195.99 L625.05,195.14 L625.55,194.25 L626.06,193.32 L626.57,192.34 L627.07,191.31 L627.58,190.25 L628.08,189.15 L628.59,188.02 L629.09,186.85 L629.60,185.64 L630.11,184.41 L630.61,183.16 L631.12,181.88 L631.62,180.59 L632.13,179.28 L632.63,177.96 L633.14,176.63 L633.65,175.31 L634.15,173.99 L634.66,172.68 L635.16,171.39 L635.67,170.13 L636.18,168.89 L636.68,167.70 L637.19,166.55 L637.69,165.46 L638.20,164.42 L638.70,163.46 L639.21,162.58 L639.72,161.78 L640.22,161.08 L640.73,160.49 L641.23,160.00 L641.74,159.64 L642.24,159.40 L642.75,159.29 L643.26,159.33 L643.76,159.50 L644.27,159.81 L644.77,160.28 L645.28,160.89 L645.78,161.64 L646.29,162.54 L646.80,163.57 L647.30,164.73 L647.81,166.02 L648.31,167.42 L648.82,168.91 L649.33,170.49 L649.83,172.15 L650.34,173.86 L650.84,175.61 L651.35,177.39 L651.85,179.17 L652.36,180.95 L652.87,182.70 L653.37,184.41 L653.88,186.07 L654.38,187.66 L654.89,189.18 L655.39,190.62 L655.90,191.97 L656.41,193.22 L656.91,194.38 L657.42,195.44 L657.92,196.40 L658.43,197.27 L658.93,198.05 L659.44,198.74 L659.95,199.34 L660.45,199.87 L660.96,200.33 L661.46,200.73 L661.97,201.07 L662.48,201.35 L662.98,201.59 L663.49,201.80 L663.99,201.96 L664.50,202.10 L665.00,202.22 L665.51,202.31 L666.02,202.38 L666.52,202.44 L667.03,202.49 L667.53,202.53 L668.04,202.55 L668.54,202.58 L669.05,202.60 L669.56,202.61 L670.06,202.62 L670.57,202.63 L671.07,202.63 L671.58,202.64 L672.08,202.64 L672.59,202.64 L673.10,202.65 L673.60,202.65 L674.11,202.65 L674.61,202.65 L675.12,202.65 L675.63,202.65 L676.13,202.65 L676.64,202.65 L677.14,202.65 L677.65,202.65 L678.15,202.65 L678.66,202.65 L679.17,202.65 L679.67,202.65 L680.18,202.65 L680.68,202.65 L681.19,202.65 L681.69,202.65 L682.20,202.65 L682.71,202.65 L683.21,202.65 L683.72,202.65 L684.22,202.65 L684.73,202.65 L685.23,202.65 L685.74,202.65 L686.25,202.65 L686.75,202.65 L687.26,202.65 L687.76,202.65 L688.27,202.65 L688.78,202.65 L689.28,202.65 L689.79,202.65 L690.29,202.65 L690.80,202.65 L691.30,202.65 L691.81,202.65 L692.32,202.65" stroke="#ff0000"/><path d="M503.66,202.65 L504.17,202.65 L504.67,202.65 L505.18,202.65 L505.69,202.65 L506.19,202.65 L506.70,202.65 L507.20,202.65 L507.71,202.65 L508.21,202.65 L508.72,202.65 L509.23,202.65 L509.73,202.65 L510.24,202.65 L510.74,202.65 L511.25,202.65 L511.76,202.65 L512.26,202.65 L512.77,202.65 L513.27,202.65 L513.78,202.65 L514.28,202.65 L514.79,202.65 L515.30,202.65 L515.80,202.65 L516.31,202.65 L516.81,202.65 L517.32,202.65 L517.82,202.65 L518.33,202.65 L518.84,202.65 L519.34,202.65 L519.85,202.65 L520.35,202.65 L520.86,202.65 L521.37,202.65 L521.87,202.65 L522.38,202.65 L522.88,202.65 L523.39,202.64 L523.89,202.64 L524.40,202.64 L524.91,202.63 L525.41,202.63 L525.92,202.62 L526.42,202.61 L526.93,202.59 L527.43,202.57 L527.94,202.55 L528.45,202.51 L528.95,202.47 L529.46,202.42 L529.96,202.35 L530.47,202.26 L530.97,202.15 L531.48,202.02 L531.99,201.85 L532.49,201.65 L533.00,201.41 L533.50,201.11 L534.01,200.75 L534.52,200.33 L535.02,199.83 L535.53,199.23 L536.03,198.54 L536.54,197.73 L537.04,196.80 L537.55,195.73 L538.06,194.50 L538.56,193.11 L539.07,191.53 L539.57,189.77 L540.08,187.79 L540.58,185.61 L541.09,183.20 L541.60,180.56 L542.10,177.69 L542.61,174.59 L543.11,171.26 L543.62,167.70 L544.12,163.93 L544.63,159.95 L545.14,155.80 L545.64,151.50 L546.15,147.06 L546.65,142.53 L547.16,137.93 L547.67,133.31 L548.17,128.71 L548.68,124.17 L549.18,119.73 L549.69,115.43 L550.19,111.33 L550.70,107.45 L551.21,103.83 L551.71,100.52 L552.22,97.53 L552.72,94.90 L553.23,92.65 L553.73,90.78 L554.24,89.31 L554.75,88.24 L555.25,87.57 L555.76,87.29 L556.26,87.39 L556.77,87.86 L557.27,88.67 L557.78,89.81 L558.29,91.24 L558.79,92.95 L559.30,94.90 L559.80,97.07 L560.31,99.43 L560.82,101.95 L561.32,104.62 L561.83,107.39 L562.33,110.25 L562.84,113.18 L563.34,116.15 L563.85,119.15 L564.36,122.15 L564.86,125.15 L565.37,128.13 L565.87,131.08 L566.38,133.99 L566.88,136.84 L567.39,139.64 L567.90,142.37 L568.40,145.03 L568.91,147.61 L569.41,150.13 L569.92,152.56 L570.42,154.91 L570.93,157.18 L571.44,159.37 L571.94,161.48 L572.45,163.50 L572.95,165.45 L573.46,167.33 L573.97,169.12 L574.47,170.84 L574.98,172.49 L575.48,174.07 L575.99,175.58 L576.49,177.02 L577.00,178.40 L577.51,179.72 L578.01,180.98 L578.52,182.18 L579.02,183.33 L579.53,184.42 L580.03,185.46 L580.54,186.45 L581.05,187.40 L581.55,188.29 L582.06,189.15 L582.56,189.96 L583.07,190.74 L583.57,191.47 L584.08,192.17 L584.59,192.83 L585.09,193.46 L585.60,194.06 L586.10,194.63 L586.61,195.16 L587.12,195.67 L587.62,196.15 L588.13,196.60 L588.63,197.03 L589.14,197.44 L589.64,197.82 L590.15,198.18 L590.66,198.52 L591.16,198.84 L591.67,199.14 L592.17,199.42 L592.68,199.68 L593.18,199.93 L593.69,200.16 L594.20,200.37 L594.70,200.57 L595.21,200.76 L595.71,200.94 L596.22,201.10 L596.72,201.25 L597.23,201.39 L597.74,201.52 L598.24,201.63 L598.75,201.74 L599.25,201.84 L599.76,201.93 L600.27,202.02 L600.77,202.09 L601.28,202.16 L601.78,202.22 L602.29,202.28 L602.79,202.33 L603.30,202.37 L603.81,202.41 L604.31,202.45 L604.82,202.48M628.08,202.48 L628.59,202.45 L629.09,202.41 L629.60,202.37 L630.11,202.33 L630.61,202.28 L631.12,202.22 L631.62,202.16 L632.13,202.09 L632.63,202.02 L633.14,201.93 L633.65,201.84 L634.15,201.74 L634.66,201.64 L635.16,201.52 L635.67,201.39 L636.18,201.26 L636.68,201.11 L637.19,200.95 L637.69,200.78 L638.20,200.59 L638.70,200.40 L639.21,200.19 L639.72,199.96 L640.22,199.72 L640.73,199.47 L641.23,199.20 L641.74,198.91 L642.24,198.61 L642.75,198.29 L643.26,197.95 L643.76,197.59 L644.27,197.21 L644.77,196.82 L645.28,196.40 L645.78,195.96 L646.29,195.50 L646.80,195.02 L647.30,194.52 L647.81,194.00 L648.31,193.45 L648.82,192.88 L649.33,192.29 L649.83,191.67 L650.34,191.03 L650.84,190.37 L651.35,189.68 L651.85,188.98 L652.36,188.25 L652.87,187.49 L653.37,186.72 L653.88,185.93 L654.38,185.11 L654.89,184.28 L655.39,183.43 L655.90,182.56 L656.41,181.68 L656.91,180.78 L657.42,179.88 L657.92,178.96 L658.43,178.04 L658.93,177.12 L659.44,176.19 L659.95,175.27 L660.45,174.36 L660.96,173.45 L661.46,172.56 L661.97,171.70 L662.48,170.85 L662.98,170.04 L663.49,169.26 L663.99,168.53 L664.50,167.84 L665.00,167.20 L665.51,166.63 L666.02,166.12 L666.52,165.69 L667.03,165.34 L667.53,165.07 L668.04,164.89 L668.54,164.82 L669.05,164.84 L669.56,164.98 L670.06,165.22 L670.57,165.59 L671.07,166.06 L671.58,166.66 L672.08,167.38 L672.59,168.20 L673.10,169.15 L673.60,170.20 L674.11,171.35 L674.61,172.59 L675.12,173.92 L675.63,175.32 L676.13,176.78 L676.64,178.29 L677.14,179.84 L677.65,181.40 L678.15,182.97 L678.66,184.53 L679.17,186.07 L679.67,187.58 L680.18,189.03 L680.68,190.43 L681.19,191.75 L681.69,193.00 L682.20,194.17 L682.71,195.25 L683.21,196.24 L683.72,197.14 L684.22,197.94 L684.73,198.66 L685.23,199.30 L685.74,199.86 L686.25,200.34 L686.75,200.76 L687.26,201.11 L687.76,201.41 L688.27,201.66 L688.78,201.86 L689.28,202.03 L689.79,202.17 L690.29,202.28 L690.80,202.36 L691.30,202.43 L691.81,202.49 L692.32,202.53 L692.82,202.56 L693.33,202.58 L693.83,202.60 L694.34,202.62 L694.84,202.63 L695.35,202.63 L695.86,202.64 L696.36,202.64 L696.87,202.64 L697.37,202.65 L697.88,202.65 L698.38,202.65 L698.89,202.65 L699.40,202.65 L699.90,202.65 L700.41,202.65 L700.91,202.65 L701.42,202.65 L701.93,202.65 L702.43,202.65 L702.94,202.65 L703.44,202.65 L703.95,202.65 L704.45,202.65 L704.96,202.65 L705.47,202.65 L705.97,202.65 L706.48,202.65 L706.98,202.65 L707.49,202.65 L707.99,202.65 L708.50,202.65 L709.01,202.65 L709.51,202.65 L710.02,202.65 L710.52,202.65 L711.03,202.65 L711.53,202.65 L712.04,202.65 L712.55,202.65 L713.05,202.65 L713.56,202.65 L714.06,202.65 L714.57,202.65 L715.08,202.65 L715.58,202.65 L716.09,202.65 L716.59,202.65 L717.10,202.65 L717.60,202.65" stroke="#0000ff"/><path d="M463.71,202.65 L464.21,202.65 L464.72,202.65 L465.22,202.65 L465.73,202.65 L466.24,202.65 L466.74,202.65 L467.25,202.65 L467.75,202.65 L468.26,202.65 L468.76,202.65 L469.27,202.65 L469.78,202.65 L470.28,202.65 L470.79,202.65 L471.29,202.65 L471.80,202.65 L472.31,202.65 L472.81,202.65 L473.32,202.65 L473.82,202.65 L474.33,202.65 L474.83,202.65 L475.34,202.65 L475.85,202.65 L476.35,202.65 L476.86,202.65 L477.36,202.65 L477.87,202.65 L478.37,202.65 L478.88,202.65 L479.39,202.65 L479.89,202.65 L480.40,202.65 L480.90,202.65 L481.41,202.65 L481.91,202.65 L482.42,202.65 L482.93,202.65 L483.43,202.65 L483.94,202.65 L484.44,202.65 L484.95,202.65 L485.46,202.65 L485.96,202.65 L486.47,202.65 L486.97,202.65 L487.48,202.65 L487.98,202.65 L488.49,202.65 L489.00,202.65 L489.50,202.65 L490.01,202.65 L490.51,202.65 L491.02,202.65 L491.52,202.65 L492.03,202.65 L492.54,202.65 L493.04,202.65 L493.55,202.65 L494.05,202.65 L494.56,202.65 L495.06,202.65 L495.57,202.65 L496.08,202.65 L496.58,202.65 L497.09,202.65 L497.59,202.65 L498.10,202.65 L498.61,202.65 L499.11,202.65 L499.62,202.64 L500.12,202.64 L500.63,202.64 L501.13,202.63 L501.64,202.62 L502.15,202.61 L502.65,202.60 L503.16,202.58 L503.66,202.55 L504.17,202.51 L504.67,202.46 L505.18,202.40 L505.69,202.32 L506.19,202.22 L506.70,202.09 L507.20,201.92 L507.71,201.72 L508.21,201.47 L508.72,201.15 L509.23,200.78 L509.73,200.32 L510.24,199.77 L510.74,199.12 L511.25,198.35 L511.76,197.44 L512.26,196.39 L512.77,195.18 L513.27,193.78 L513.78,192.20 L514.28,190.40 L514.79,188.39 L515.30,186.14 L515.80,183.65 L516.31,180.92 L516.81,177.93 L517.32,174.70 L517.82,171.22 L518.33,167.50 L518.84,163.57 L519.34,159.43 L519.85,155.11 L520.35,150.64 L520.86,146.05 L521.37,141.38 L521.87,136.67 L522.38,131.96 L522.88,127.30 L523.39,122.73 L523.89,118.30 L524.40,114.05 L524.91,110.03 L525.41,106.28 L525.92,102.82 L526.42,99.70 L526.93,96.94 L527.43,94.56 L527.94,92.57 L528.45,90.99 L528.95,89.81 L529.46,89.04 L529.96,88.67 L530.47,88.67 L530.97,89.05 L531.48,89.78 L531.99,90.83 L532.49,92.17 L533.00,93.80 L533.50,95.66 L534.01,97.75 L534.52,100.02 L535.02,102.46 L535.53,105.03 L536.03,107.72 L536.54,110.49 L537.04,113.32 L537.55,116.20 L538.06,119.11 L538.56,122.02 L539.07,124.93 L539.57,127.82 L540.08,130.68 L540.58,133.50 L541.09,136.27 L541.60,138.98 L542.10,141.62 L542.61,144.21 L543.11,146.72 L543.62,149.15 L544.12,151.51 L544.63,153.79 L545.14,156.00 L545.64,158.12 L546.15,160.17 L546.65,162.14 L547.16,164.03 L547.67,165.85 L548.17,167.60 L548.68,169.28 L549.18,170.88 L549.69,172.42 L550.19,173.89 L550.70,175.30 L551.21,176.65 L551.71,177.93 L552.22,179.16 L552.72,180.34 L553.23,181.46 L553.73,182.53 L554.24,183.56 L554.75,184.53 L555.25,185.47 L555.76,186.35 L556.26,187.20 L556.77,188.01 L557.27,188.78 L557.78,189.51 L558.29,190.21 L558.79,190.88 L559.30,191.51 L559.80,192.12 L560.31,192.69 L560.82,193.24 L561.32,193.76 L561.83,194.26 L562.33,194.73 L562.84,195.17 L563.34,195.60 L563.85,196.00 L564.36,196.39 L564.86,196.75 L565.37,197.10 L565.87,197.43 L566.38,197.74 L566.88,198.04 L567.39,198.32 L567.90,198.58 L568.40,198.83 L568.91,199.07 L569.41,199.30 L569.92,199.51 L570.42,199.71 L570.93,199.90 L571.44,200.08 L571.94,200.25 L572.45,200.41 L572.95,200.56 L573.46,200.71 L573.97,200.84 L574.47,200.97 L574.98,201.08 L575.48,201.20 L575.99,201.30 L576.49,201.40 L577.00,201.49 L577.51,201.58 L578.01,201.66 L578.52,201.74 L579.02,201.81 L579.53,201.87 L580.03,201.93 L580.54,201.99 L581.05,202.05 L581.55,202.10 L582.06,202.14 L582.56,202.19 L583.07,202.23 L583.57,202.26 L584.08,202.30 L584.59,202.33 L585.09,202.36 L585.60,202.39 L586.10,202.41 L586.61,202.43 L587.12,202.45 L587.62,202.47 L588.13,202.49 L588.63,202.51 L589.14,202.52 L589.64,202.54 L590.15,202.55 L590.66,202.56 L591.16,202.57 L591.67,202.58 L592.17,202.59 L592.68,202.59 L593.18,202.60 L593.69,202.61 L594.20,202.61 L594.70,202.62 L595.21,202.62 L595.71,202.63 L596.22,202.63 L596.72,202.63 L597.23,202.63 L597.74,202.64 L598.24,202.64 L598.75,202.64 L599.25,202.64 L599.76,202.64 L600.27,202.64 L600.77,202.65 L601.28,202.65 L601.78,202.65 L602.29,202.65 L602.79,202.65 L603.30,202.65 L603.81,202.65 L604.31,202.65 L604.82,202.65 L605.32,202.65 L605.83,202.65 L606.33,202.65 L606.84,202.65 L607.35,202.65 L607.85,202.65 L608.36,202.65 L608.86,202.65 L609.37,202.65 L609.87,202.65 L610.38,202.65 L610.89,202.65 L611.39,202.65 L611.90,202.65 L612.40,202.65 L612.91,202.65 L613.42,202.65 L613.92,202.65 L614.43,202.65 L614.93,202.65 L615.44,202.65 L615.94,202.65 L616.45,202.65 L616.96,202.65 L617.46,202.65 L617.97,202.65 L618.47,202.65 L618.98,202.65 L619.48,202.65 L619.99,202.65 L620.50,202.65 L621.00,202.65 L621.51,202.65 L622.01,202.65 L622.52,202.65 L623.03,202.65 L623.53,202.65 L624.04,202.65 L624.54,202.65 L625.05,202.65 L625.55,202.65 L626.06,202.65 L626.57,202.65 L627.07,202.65 L627.58,202.65 L628.08,202.65 L628.59,202.65 L629.09,202.65 L629.60,202.65 L630.11,202.65 L630.61,202.65 L631.12,202.65 L631.62,202.65 L632.13,202.65 L632.63,202.64 L633.14,202.64 L633.65,202.64 L634.15,202.64 L634.66,202.64 L635.16,202.64 L635.67,202.63 L636.18,202.63 L636.68,202.63 L637.19,202.63 L637.69,202.62 L638.20,202.62 L638.70,202.61 L639.21,202.61 L639.72,202.60 L640.22,202.59 L640.73,202.59 L641.23,202.58 L641.74,202.57 L642.24,202.56 L642.75,202.55 L643.26,202.54 L643.76,202.52 L644.27,202.51 L644.77,202.49 L645.28,202.47 L645.78,202.46 L646.29,202.43 L646.80,202.41 L647.30,202.39 L647.81,202.36 L648.31,202.33 L648.82,202.30 L649.33,202.26 L649.83,202.23 L650.34,202.19 L650.84,202.14 L651.35,202.10 L651.85,202.05 L652.36,201.99 L652.87,201.94 L653.37,201.88 L653.88,201.81 L654.38,201.74 L654.89,201.67 L655.39,201.59 L655.90,201.50 L656.41,201.41 L656.91,201.31 L657.42,201.21 L657.92,201.10 L658.43,200.98 L658.93,200.86 L659.44,200.73 L659.95,200.59 L660.45,200.45 L660.96,200.29 L661.46,200.13 L661.97,199.95 L662.48,199.77 L662.98,199.58 L663.49,199.38 L663.99,199.16 L664.50,198.94 L665.00,198.70 L665.51,198.45 L666.02,198.19 L666.52,197.92 L667.03,197.63 L667.53,197.33 L668.04,197.01 L668.54,196.68 L669.05,196.34 L669.56,195.98 L670.06,195.60 L670.57,195.21 L671.07,194.80 L671.58,194.38 L672.08,193.94 L672.59,193.48 L673.10,193.00 L673.60,192.50 L674.11,191.99 L674.61,191.45 L675.12,190.90 L675.63,190.33 L676.13,189.74 L676.64,189.13 L677.14,188.50 L677.65,187.86 L678.15,187.19 L678.66,186.51 L679.17,185.81 L679.67,185.10 L680.18,184.36 L680.68,183.62 L681.19,182.85 L681.69,182.08 L682.20,181.30 L682.71,180.50 L683.21,179.70 L683.72,178.89 L684.22,178.07 L684.73,177.26 L685.23,176.45 L685.74,175.64 L686.25,174.83 L686.75,174.04 L687.26,173.27 L687.76,172.51 L688.27,171.78 L688.78,171.08 L689.28,170.41 L689.79,169.78 L690.29,169.19 L690.80,168.65 L691.30,168.17 L691.81,167.75 L692.32,167.40 L692.82,167.13 L693.33,166.93 L693.83,166.81 L694.34,166.79 L694.84,166.87 L695.35,167.04 L695.86,167.32 L696.36,167.70 L696.87,168.19 L697.37,168.79 L697.88,169.50 L698.38,170.32 L698.89,171.24 L699.40,172.26 L699.90,173.38 L700.41,174.58 L700.91,175.86 L701.42,177.21 L701.93,178.61 L702.43,180.06 L702.94,181.54 L703.44,183.04 L703.95,184.54 L704.45,186.03 L704.96,187.49 L705.47,188.92 L705.97,190.30 L706.48,191.62 L706.98,192.86 L707.49,194.04 L707.99,195.13 L708.50,196.13 L709.01,197.04 L709.51,197.87 L710.02,198.61 L710.52,199.26 L711.03,199.83 L711.53,200.33 L712.04,200.76 L712.55,201.12 L713.05,201.42 L713.56,201.68 L714.06,201.89 L714.57,202.06 L715.08,202.19 L715.58,202.30 L716.09,202.39 L716.59,202.45 L717.10,202.50 L717.60,202.54 L718.11,202.57 L718.62,202.60 L719.12,202.61 L719.63,202.62 L720.13,202.63 L720.64,202.64 L721.14,202.64 L721.65,202.64 L722.16,202.65 L722.66,202.65 L723.17,202.65 L723.67,202.65 L724.18,202.65 L724.69,202.65 L725.19,202.65 L725.70,202.65 L726.20,202.65 L726.71,202.65 L727.21,202.65 L727.72,202.65 L728.23,202.65 L728.73,202.65 L729.24,202.65 L729.74,202.65 L730.25,202.65 L730.75,202.65 L731.26,202.65 L731.77,202.65 L732.27,202.65 L732.78,202.65 L733.28,202.65 L733.79,202.65 L734.29,202.65 L734.80,202.65 L735.31,202.65 L735.81,202.65 L736.32,202.65 L736.82,202.65 L737.33,202.65 L737.84,202.65 L738.34,202.65 L738.85,202.65 L739.35,202.65 L739.86,202.65 L740.36,202.65 L740.87,202.65 L741.38,202.65 L741.88,202.65 L742.39,202.65 L742.89,202.65 L743.40,202.65 L743.90,202.65 L744.41,202.65 L744.92,202.65 L745.42,202.65 L745.93,202.65 L746.43,202.65 L746.94,202.65 L747.44,202.65 L747.95,202.65 L748.46,202.65 L748.96,202.65 L749.47,202.65 L749.97,202.65 L750.48,202.65 L750.99,202.65 L751.49,202.65 L752.00,202.65 L752.50,202.65 L753.01,202.65 L753.51,202.65 L754.02,202.65 L754.53,202.65 L755.03,202.65 L755.54,202.65 L756.04,202.65 L756.55,202.65 L757.05,202.65 L757.56,202.65 L758.07,202.65 L758.57,202.65 L759.08,202.65 L759.58,202.65 L760.09,202.65 L760.59,202.65 L761.10,202.65 L761.61,202.65 L762.11,202.65 L762.62,202.65 L763.12,202.65 L763.63,202.65 L764.14,202.65 L764.64,202.65 L765.15,202.65 L765.65,202.65 L766.16,202.65 L766.66,202.65 L767.17,202.65 L767.68,202.65 L768.18,202.65 L768.69,202.65 L769.19,202.65" stroke="#ff8000"/></g><g stroke="#787878" stroke-width="0.6" class="tk"><path d="M464.53,212.5 v-2.5" /><path d="M464.53,17.5 v2.5" class="lt"/><path d="M477.19,212.5 v-2.5" /><path d="M477.19,17.5 v2.5" class="lt"/><path d="M489.85,212.5 v-4" /><path d="M489.85,17.5 v4" class="lt"/><path d="M502.51,212.5 v-2.5" /><path d="M502.51,17.5 v2.5" class="lt"/><path d="M515.17,212.5 v-2.5" /><path d="M515.17,17.5 v2.5" class="lt"/><path d="M527.83,212.5 v-2.5" /><path d="M527.83,17.5 v2.5" class="lt"/><path d="M540.49,212.5 v-2.5" /><path d="M540.49,17.5 v2.5" class="lt"/><path d="M553.15,212.5 v-4" /><path d="M553.15,17.5 v4" class="lt"/><path d="M565.81,212.5 v-2.5" /><path d="M565.81,17.5 v2.5" class="lt"/><path d="M578.47,212.5 v-2.5" /><path d="M578.47,17.5 v2.5" class="lt"/><path d="M591.13,212.5 v-2.5" /><path d="M591.13,17.5 v2.5" class="lt"/><path d="M603.79,212.5 v-2.5" /><path d="M603.79,17.5 v2.5" class="lt"/><path d="M616.45,212.5 v-4" /><path d="M616.45,17.5 v4" class="lt"/><path d="M629.11,212.5 v-2.5" /><path d="M629.11,17.5 v2.5" class="lt"/><path d="M641.77,212.5 v-2.5" /><path d="M641.77,17.5 v2.5" class="lt"/><path d="M654.43,212.5 v-2.5" /><path d="M654.43,17.5 v2.5" class="lt"/><path d="M667.09,212.5 v-2.5" /><path d="M667.09,17.5 v2.5" class="lt"/><path d="M679.75,212.5 v-4" /><path d="M679.75,17.5 v4" class="lt"/><path d="M692.41,212.5 v-2.5" /><path d="M692.41,17.5 v2.5" class="lt"/><path d="M705.07,212.5 v-2.5" /><path d="M705.07,17.5 v2.5" class="lt"/><path d="M717.73,212.5 v-2.5" /><path d="M717.73,17.5 v2.5" class="lt"/><path d="M730.39,212.5 v-2.5" /><path d="M730.39,17.5 v2.5" class="lt"/><path d="M743.05,212.5 v-4" /><path d="M743.05,17.5 v4" class="lt"/><path d="M755.71,212.5 v-2.5" /><path d="M755.71,17.5 v2.5" class="lt"/><path d="M768.37,212.5 v-2.5" /><path d="M768.37,17.5 v2.5" class="lt"/><path d="M458.5,202.65 h4" /><path d="M774.5,202.65 h-4" class="lt"/><path d="M458.5,190.79 h2.5" /><path d="M774.5,190.79 h-2.5" class="lt"/><path d="M458.5,178.93 h2.5" /><path d="M774.5,178.93 h-2.5" class="lt"/><path d="M458.5,167.07 h2.5" /><path d="M774.5,167.07 h-2.5" class="lt"/><path d="M458.5,155.21 h2.5" /><path d="M774.5,155.21 h-2.5" class="lt"/><path d="M458.5,143.35 h4" /><path d="M774.5,143.35 h-4" class="lt"/><path d="M458.5,131.49 h2.5" /><path d="M774.5,131.49 h-2.5" class="lt"/><path d="M458.5,119.63 h2.5" /><path d="M774.5,119.63 h-2.5" class="lt"/><path d="M458.5,107.77 h2.5" /><path d="M774.5,107.77 h-2.5" class="lt"/><path d="M458.5,95.91 h2.5" /><path d="M774.5,95.91 h-2.5" class="lt"/><path d="M458.5,84.05 h4" /><path d="M774.5,84.05 h-4" class="lt"/><path d="M458.5,72.19 h2.5" /><path d="M774.5,72.19 h-2.5" class="lt"/><path d="M458.5,60.33 h2.5" /><path d="M774.5,60.33 h-2.5" class="lt"/><path d="M458.5,48.47 h2.5" /><path d="M774.5,48.47 h-2.5" class="lt"/><path d="M458.5,36.61 h2.5" /><path d="M774.5,36.61 h-2.5" class="lt"/><path d="M458.5,24.75 h4" /><path d="M774.5,24.75 h-4" class="lt"/></g><rect x="458.5" y="17.5" width="316.0" height="195.0" stroke="#909090" stroke-width="1"/></g></svg>
<div class="t" style="left:69.70px;top:217.50px;width:60px;text-align:center">−10</div><div class="t" style="left:132.10px;top:217.50px;width:60px;text-align:center">−5</div><div class="t" style="left:195.65px;top:217.50px;width:60px;text-align:center">0</div><div class="t" style="left:259.00px;top:217.50px;width:60px;text-align:center">5</div><div class="t" style="left:322.40px;top:217.50px;width:60px;text-align:center">10</div><div class="t" style="left:195.80px;top:243.00px;width:60px;text-align:center">x</div><div class="t" style="left:460.35px;top:217.50px;width:60px;text-align:center">−10</div><div class="t" style="left:522.75px;top:217.50px;width:60px;text-align:center">−5</div><div class="t" style="left:585.80px;top:217.50px;width:60px;text-align:center">0</div><div class="t" style="left:648.85px;top:217.50px;width:60px;text-align:center">5</div><div class="t" style="left:713.05px;top:217.50px;width:60px;text-align:center">10</div><div class="t" style="left:586.45px;top:243.00px;width:60px;text-align:center">x</div><div class="t" style="left:3.50px;top:194.95px;width:60px;text-align:right;transform-origin:50% 3.4px">0.0</div><div class="t" style="left:3.50px;top:159.75px;width:60px;text-align:right;transform-origin:50% 3.4px">0.2</div><div class="t" style="left:3.50px;top:124.55px;width:60px;text-align:right;transform-origin:50% 3.4px">0.4</div><div class="t" style="left:3.50px;top:89.35px;width:60px;text-align:right;transform-origin:50% 3.4px">0.6</div><div class="t" style="left:3.50px;top:54.15px;width:60px;text-align:right;transform-origin:50% 3.4px">0.8</div><div class="t" style="left:3.50px;top:18.95px;width:60px;text-align:right;transform-origin:50% 3.4px">1.0</div><div class="t" style="left:394.50px;top:194.85px;width:60px;text-align:right;transform-origin:50% 3.4px">0.00</div><div class="t" style="left:394.50px;top:135.55px;width:60px;text-align:right;transform-origin:50% 3.4px">0.05</div><div class="t" style="left:394.50px;top:76.25px;width:60px;text-align:right;transform-origin:50% 3.4px">0.10</div><div class="t" style="left:394.50px;top:16.95px;width:60px;text-align:right;transform-origin:50% 3.4px">0.15</div><div class="yl" style="left:26.9px;top:115.1px"><span class="rot"><i class="g phi">ϕ</i><i class="g kk">k</i><i class="g nn">n</i><span class="g px">(x)</span></span></div><div class="yl" style="left:412.2px;top:115.3px"><span class="rot"><svg class="g" width="9.7" height="12.9" viewBox="0 0 9 12" style="top:3.1px;overflow:visible"><path d="M7.2,2.4 C6.9,1.1 5.6,0.5 4.4,0.7 C2.9,0.9 1.8,1.9 1.9,3.1 C2.0,4.4 3.2,5.2 4.6,5.3 C2.4,5.4 0.4,6.5 0.5,8.3 C0.6,10.0 2.2,10.9 3.9,10.9 C6.2,10.9 7.9,9.6 7.9,8.0 C7.9,7.2 7.3,6.7 6.7,6.7" fill="none" stroke="#505050" stroke-width="1.1" stroke-linecap="round"/></svg><span class="g bps">BPS</span></span></div>
</body></html>
